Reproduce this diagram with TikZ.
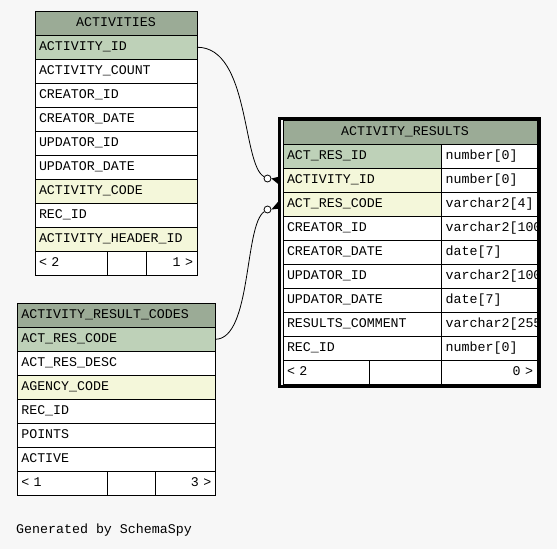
\documentclass[tikz,border=0pt]{standalone}
\usepackage{fontspec}
\newfontfamily\dbfont{Liberation Mono}
\hyphenpenalty=10000
\exhyphenpenalty=10000
\definecolor{pagebg}{HTML}{F7F7F7}
\definecolor{headgreen}{HTML}{9BAB96}
\definecolor{pkgreen}{HTML}{BED1B8}
\definecolor{idxyellow}{HTML}{F4F7DA}
\begin{document}
\begin{tikzpicture}[x=1pt,y=-1pt,node distance=24pt,font=\dbfont\fontsize{13.3}{15}\selectfont]
        \tikzstyle{thead} = [rectangle, draw=black, line width=1pt, fill=headgreen, minimum height=24pt, inner sep=0pt, outer sep=0pt, text height=9pt, text depth=3.5pt, text centered]
        \tikzstyle{cell} = [rectangle, draw=black, line width=1pt, fill=white, minimum height=24pt, inner xsep=4pt, inner ysep=0pt, outer sep=0pt, text height=9pt, text depth=3.5pt, align=left]
        \tikzstyle{acol} = [cell, text width=154pt]
        \tikzstyle{ccol} = [cell, text width=190pt]
        \tikzstyle{rcol} = [cell, text width=150.7pt]
        \tikzstyle{rtyp} = [cell, text width=87.3pt, anchor=west]
        \tikzstyle{foot} = [cell, anchor=north west]
        \tikzstyle{zerodot} = [circle, draw=black, fill=white, line width=0.8pt, inner sep=0pt, minimum size=7pt]
        \tikzstyle{link} = [line width=0.8pt]
        \tikzstyle{frame} = [line width=3pt]

        \fill [pagebg] (0,0) rectangle (557,549);

        % ACTIVITIES
        \node (ah) [thead, minimum width=162pt] at (116,23.25) {ACTIVITIES};
        \node (a1) [acol, fill=pkgreen, below of=ah] {ACTIVITY\_ID};
        \node (a2) [acol, below of=a1] {ACTIVITY\_COUNT};
        \node (a3) [acol, below of=a2] {CREATOR\_ID};
        \node (a4) [acol, below of=a3] {CREATOR\_DATE};
        \node (a5) [acol, below of=a4] {UPDATOR\_ID};
        \node (a6) [acol, below of=a5] {UPDATOR\_DATE};
        \node (a7) [acol, fill=idxyellow, below of=a6] {ACTIVITY\_CODE};
        \node (a8) [acol, below of=a7] {REC\_ID};
        \node (a9) [acol, fill=idxyellow, below of=a8] {ACTIVITY\_HEADER\_ID};
        \node (af1) [foot, text width=64.3pt] at (a9.south west) {< 2};
        \node (af2) [foot, text width=31pt] at (af1.north east) {};
        \node (af3) [foot, text width=42.7pt, align=right] at (af2.north east) {1 >};

        % ACTIVITY_RESULT_CODES
        \node (ch) [ccol, fill=headgreen] at (116.3,315.3) {ACTIVITY\_RESULT\_CODES};
        \node (c1) [ccol, fill=pkgreen, below of=ch] {ACT\_RES\_CODE};
        \node (c2) [ccol, below of=c1] {ACT\_RES\_DESC};
        \node (c3) [ccol, fill=idxyellow, below of=c2] {AGENCY\_CODE};
        \node (c4) [ccol, below of=c3] {REC\_ID};
        \node (c5) [ccol, below of=c4] {POINTS};
        \node (c6) [ccol, below of=c5] {ACTIVE};
        \node (cf1) [foot, text width=82pt] at (c6.south west) {< 1};
        \node (cf2) [foot, text width=40pt] at (cf1.north east) {};
        \node (cf3) [foot, text width=52pt, align=right] at (cf2.north east) {3 >};

        % ACTIVITY_RESULTS
        \begin{scope}
        \clip (280,110) rectangle (539,390);
        \node (rh) [thead, minimum width=254pt] at (410,132.7) {ACTIVITY\_RESULTS\hspace*{10pt}};
        \node (r1) [rcol, fill=pkgreen, below of=rh, xshift=-47.65pt] {ACT\_RES\_ID};
        \node (r2) [rcol, fill=idxyellow, below of=r1] {ACTIVITY\_ID};
        \node (r3) [rcol, fill=idxyellow, below of=r2] {ACT\_RES\_CODE};
        \node (r4) [rcol, below of=r3] {CREATOR\_ID};
        \node (r5) [rcol, below of=r4] {CREATOR\_DATE};
        \node (r6) [rcol, below of=r5] {UPDATOR\_ID};
        \node (r7) [rcol, below of=r6] {UPDATOR\_DATE};
        \node (r8) [rcol, below of=r7] {RESULTS\_COMMENT};
        \node (r9) [rcol, below of=r8] {REC\_ID};
        \node (r1t) [rtyp] at (r1.east) {number[0]};
        \node (r2t) [rtyp] at (r2.east) {number[0]};
        \node (r3t) [rtyp] at (r3.east) {varchar2[4]};
        \node (r4t) [rtyp] at (r4.east) {varchar2[100]};
        \node (r5t) [rtyp] at (r5.east) {date[7]};
        \node (r6t) [rtyp] at (r6.east) {varchar2[100]};
        \node (r7t) [rtyp] at (r7.east) {date[7]};
        \node (r8t) [rtyp] at (r8.east) {varchar2[255]};
        \node (r9t) [rtyp] at (r9.east) {number[0]};
        \node (rf1) [foot, text width=78pt] at (r9.south west) {< 2};
        \node (rf2) [foot, text width=64.7pt] at (rf1.north east) {};
        \node (rf3) [foot, text width=87.3pt, align=right] at (rf2.north east) {0 >};
        \end{scope}
        \draw [frame] ([shift={(-3.3pt,2.2pt)}]rh.north west) rectangle ([shift={(2.5pt,-1.3pt)}]rf3.south east);

        % relationships
        \node (o1) [zerodot] at ([xshift=-15.5pt,yshift=2.2pt]r2.west) {};
        \node (o2) [zerodot] at ([xshift=-15.5pt,yshift=-4.8pt]r3.west) {};
        \coordinate (k1) at ([xshift=-4pt]r2.west);
        \coordinate (k2) at ([xshift=-4pt]r3.west);
        \draw [link] (a1.east) .. controls (250,47) and (242,165) .. (o1);
        \draw [link] (c1.east) .. controls (252,339) and (244,225) .. (o2);
        \fill (o1.east) -- ([yshift=4pt]k1) -- ([yshift=-4pt]k1) -- cycle;
        \fill (o2.east) -- ([yshift=4pt]k2) -- ([yshift=-4pt]k2) -- cycle;

        \node (credit) [anchor=west, inner sep=0pt] at (16,530.5) {Generated by SchemaSpy};
    \end{tikzpicture}
\end{document}
